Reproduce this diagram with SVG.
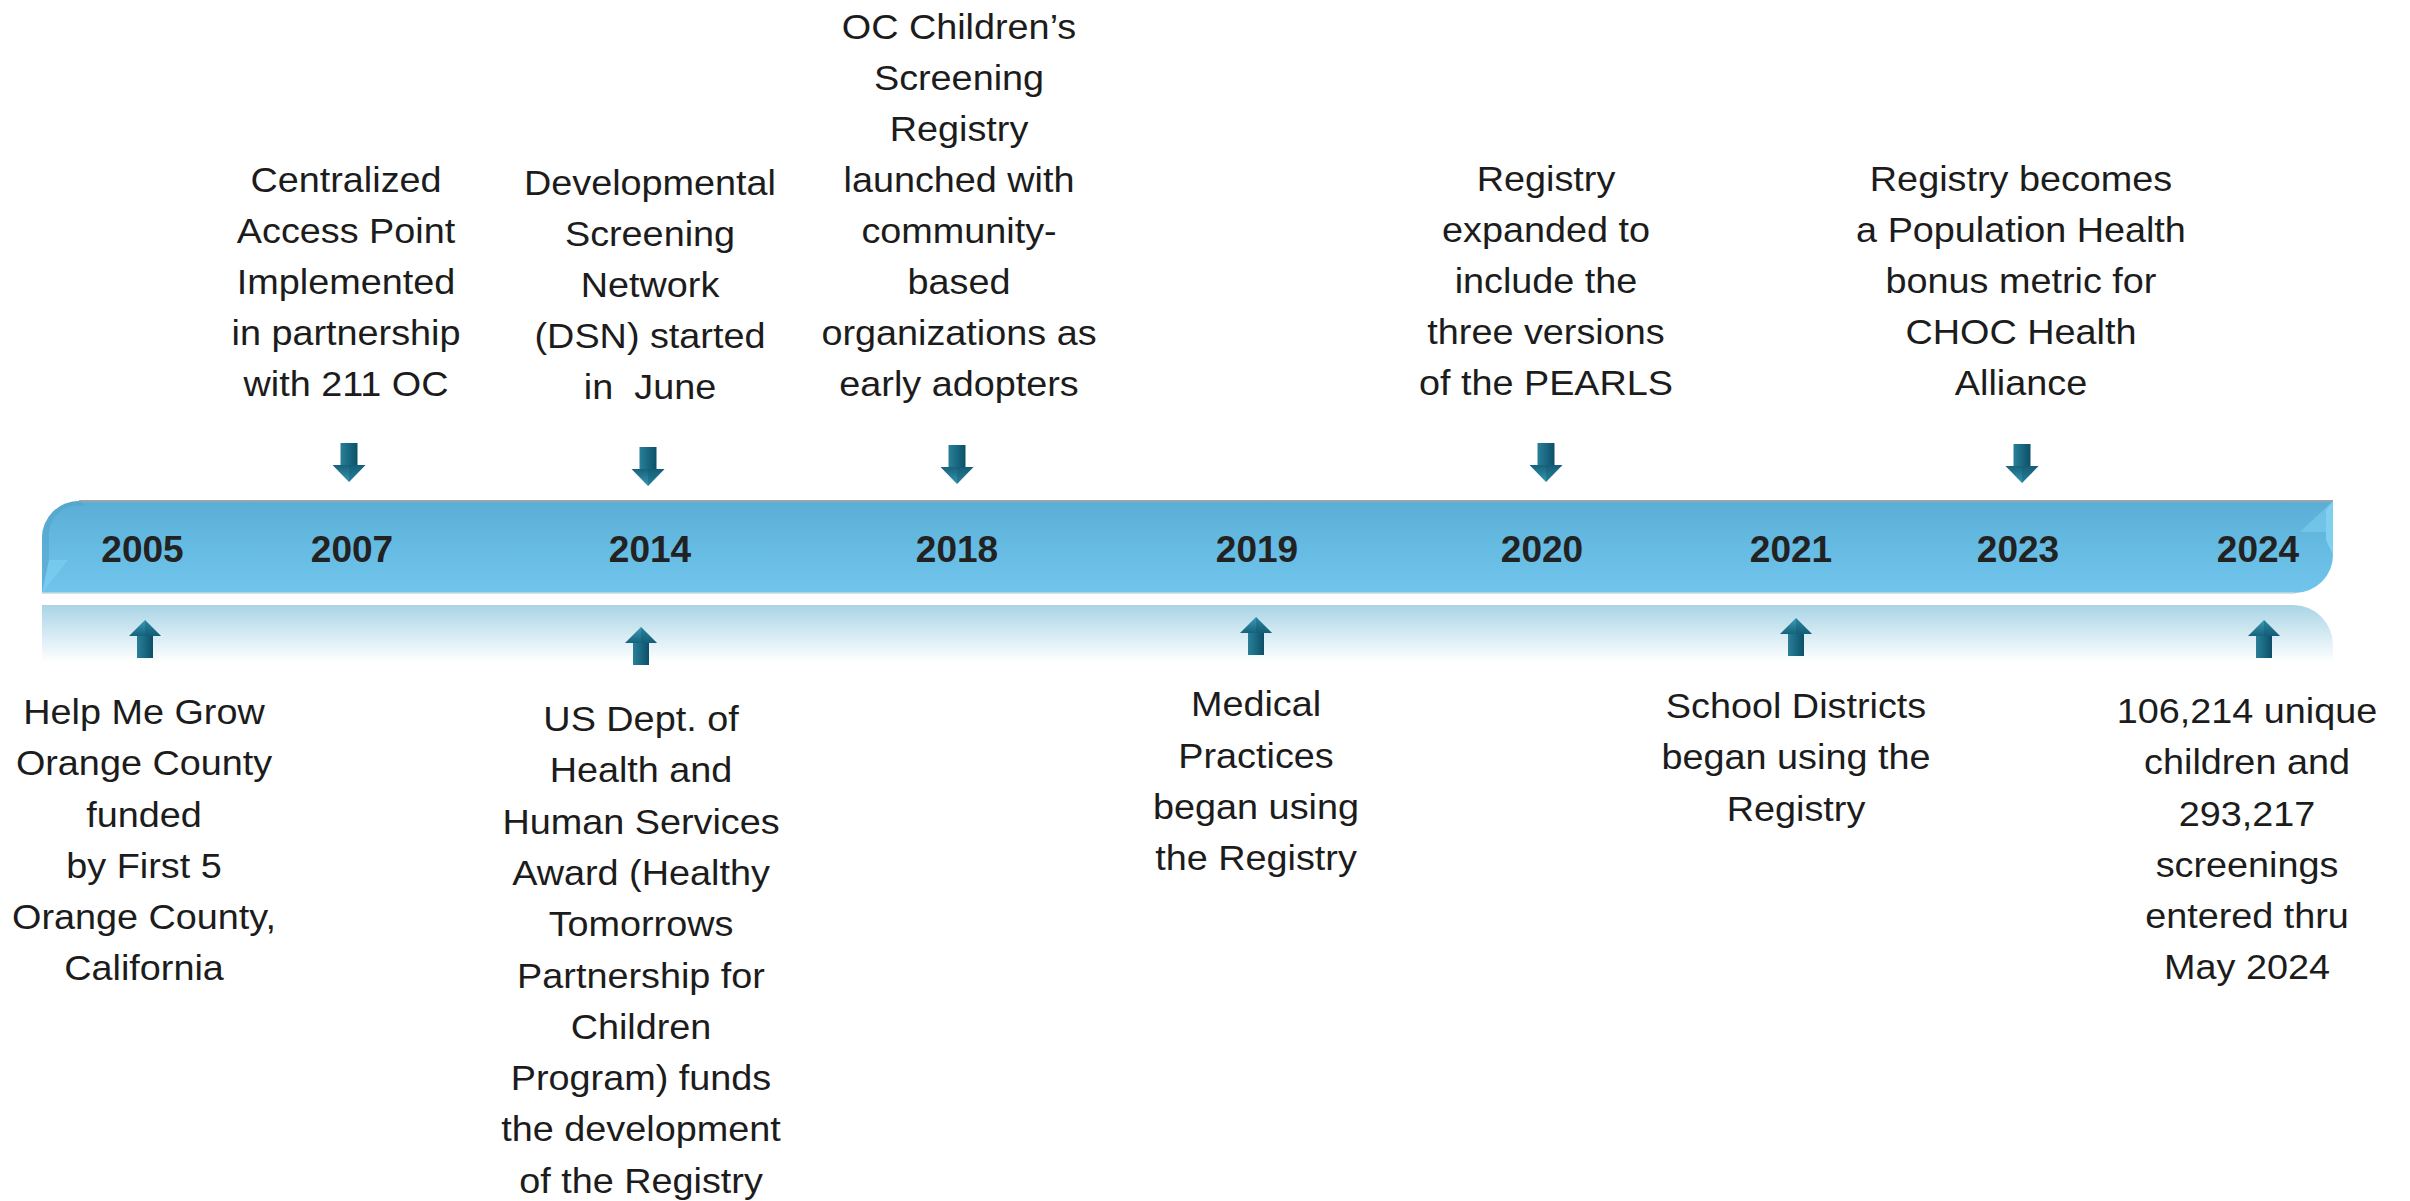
<svg xmlns="http://www.w3.org/2000/svg" xmlns:xlink="http://www.w3.org/1999/xlink" width="2410" height="1201" viewBox="0 0 2410 1201">
<style>
.t{font-family:"Liberation Sans",Arial,sans-serif;font-size:35px;fill:#1c1c1c;text-anchor:middle}
.y{font-family:"Liberation Sans",Arial,sans-serif;font-size:37px;font-weight:bold;fill:#222222;text-anchor:middle}
</style>
<defs>
<linearGradient id="barG" x1="0" y1="0" x2="0" y2="1">
<stop offset="0" stop-color="#5aaed5"/>
<stop offset="0.5" stop-color="#66bbe3"/>
<stop offset="1" stop-color="#71c5ec"/>
</linearGradient>
<linearGradient id="reflG" x1="0" y1="0" x2="0" y2="1">
<stop offset="0" stop-color="#a9d4e6"/>
<stop offset="0.5" stop-color="#d4eaf3"/>
<stop offset="1" stop-color="#ffffff"/>
</linearGradient>
<linearGradient id="shaftG" x1="0" y1="0" x2="1" y2="0">
<stop offset="0" stop-color="#2a7f98"/>
<stop offset="0.5" stop-color="#1a6882"/>
<stop offset="1" stop-color="#0d4f66"/>
</linearGradient>
<linearGradient id="headDownG" x1="0" y1="0" x2="0" y2="1">
<stop offset="0" stop-color="#17627b"/>
<stop offset="1" stop-color="#3497b1"/>
</linearGradient>
<linearGradient id="headUpG" x1="0" y1="0" x2="0" y2="1">
<stop offset="0" stop-color="#3a9db7"/>
<stop offset="1" stop-color="#17627b"/>
</linearGradient>
<g id="downArrow">
<rect x="-8.5" y="0" width="17" height="22" fill="url(#shaftG)"/>
<polygon points="-16.5,22 16.5,22 0,39" fill="url(#headDownG)"/>
<polygon points="0,22 16.5,22 0,39" fill="#0f5670" opacity="0.35"/>
</g>
<g id="upArrow">
<polygon points="0,0 -16,16 16,16" fill="url(#headUpG)"/>
<polygon points="0,0 16,16 0,16" fill="#0f5670" opacity="0.35"/>
<rect x="-8" y="16" width="16" height="22" fill="url(#shaftG)"/>
</g>
</defs>
<rect x="0" y="0" width="2410" height="1201" fill="#ffffff"/>

<g id="timeline">
<path d="M42,605 L2293,605 A40,40 0 0 1 2333,645 L2333,662 L42,662 Z" fill="url(#reflG)"/>
<path d="M42,593 L42,538 A37,37 0 0 1 79,501 L2333,501 L2333,555 A38,38 0 0 1 2295,593 Z" fill="url(#barG)"/>
<path d="M42,593 L42,538 A37,37 0 0 1 79,501 L86,506 A30,30 0 0 0 49,538 L49,560 Z" fill="#4f9fc6" opacity="0.5"/>
<polygon points="42,593 49,560 68,560" fill="#7fd0f2" opacity="0.6"/>
<polygon points="2333,501 2333,555 2326,540 2326,510" fill="#8fdaf7" opacity="0.7"/>
<polygon points="2333,501 2300,532 2326,532" fill="#84d2f3" opacity="0.5"/>
<path d="M79,501 L2333,501" stroke="#9aa6ad" stroke-width="2" fill="none"/>
<path d="M42,593 L2295,593" stroke="#c9d7de" stroke-width="1.5" fill="none"/>
<text class="y" x="142.5" y="562">2005</text>
<text class="y" x="352" y="562">2007</text>
<text class="y" x="650" y="562">2014</text>
<text class="y" x="957" y="562">2018</text>
<text class="y" x="1257" y="562">2019</text>
<text class="y" x="1542" y="562">2020</text>
<text class="y" x="1791" y="562">2021</text>
<text class="y" x="2018" y="562">2023</text>
<text class="y" x="2258" y="562">2024</text>
</g>

<g id="connectors">
<use xlink:href="#downArrow" href="#downArrow" transform="translate(349,443)"/>
<use xlink:href="#downArrow" href="#downArrow" transform="translate(648,447)"/>
<use xlink:href="#downArrow" href="#downArrow" transform="translate(957,445)"/>
<use xlink:href="#downArrow" href="#downArrow" transform="translate(1546,443)"/>
<use xlink:href="#downArrow" href="#downArrow" transform="translate(2022,444)"/>
<use xlink:href="#upArrow" href="#upArrow" transform="translate(145,620)"/>
<use xlink:href="#upArrow" href="#upArrow" transform="translate(641,627)"/>
<use xlink:href="#upArrow" href="#upArrow" transform="translate(1256,617)"/>
<use xlink:href="#upArrow" href="#upArrow" transform="translate(1796,618)"/>
<use xlink:href="#upArrow" href="#upArrow" transform="translate(2264,620)"/>
</g>

<g id="n2007" transform="translate(346,0) scale(1.08,1)">
<text class="t"><tspan x="0" y="192">Centralized</tspan><tspan x="0" y="243">Access Point</tspan><tspan x="0" y="294">Implemented</tspan><tspan x="0" y="345">in partnership</tspan><tspan x="0" y="396">with 211 OC</tspan></text>
</g>

<g id="n2014top" transform="translate(650,0) scale(1.08,1)">
<text class="t"><tspan x="0" y="195">Developmental</tspan><tspan x="0" y="246">Screening</tspan><tspan x="0" y="297">Network</tspan><tspan x="0" y="348">(DSN) started</tspan></text>
<text class="t" x="0" y="399" xml:space="preserve">in  June</text>
</g>

<g id="n2018" transform="translate(959,0) scale(1.08,1)">
<text class="t"><tspan x="0" y="39">OC Children’s</tspan><tspan x="0" y="90">Screening</tspan><tspan x="0" y="141">Registry</tspan><tspan x="0" y="192">launched with</tspan><tspan x="0" y="243">community-</tspan><tspan x="0" y="294">based</tspan><tspan x="0" y="345">organizations as</tspan><tspan x="0" y="396">early adopters</tspan></text>
</g>

<g id="n2020" transform="translate(1546,0) scale(1.08,1)">
<text class="t"><tspan x="0" y="191">Registry</tspan><tspan x="0" y="242">expanded to</tspan><tspan x="0" y="293">include the</tspan><tspan x="0" y="344">three versions</tspan><tspan x="0" y="395">of the PEARLS</tspan></text>
</g>

<g id="n2023" transform="translate(2021,0) scale(1.08,1)">
<text class="t"><tspan x="0" y="191">Registry becomes</tspan><tspan x="0" y="242">a Population Health</tspan><tspan x="0" y="293">bonus metric for</tspan><tspan x="0" y="344">CHOC Health</tspan><tspan x="0" y="395">Alliance</tspan></text>
</g>

<g id="n2005" transform="translate(144,0) scale(1.08,1)">
<text class="t"><tspan x="0" y="724">Help Me Grow</tspan><tspan x="0" y="775">Orange County</tspan><tspan x="0" y="827">funded</tspan><tspan x="0" y="878">by First 5</tspan><tspan x="0" y="929">Orange County,</tspan><tspan x="0" y="980">California</tspan></text>
</g>

<g id="n2014bottom" transform="translate(641,0) scale(1.08,1)">
<text class="t"><tspan x="0" y="731">US Dept. of</tspan><tspan x="0" y="782">Health and</tspan><tspan x="0" y="834">Human Services</tspan><tspan x="0" y="885">Award (Healthy</tspan><tspan x="0" y="936">Tomorrows</tspan><tspan x="0" y="988">Partnership for</tspan><tspan x="0" y="1039">Children</tspan><tspan x="0" y="1090">Program) funds</tspan><tspan x="0" y="1141">the development</tspan><tspan x="0" y="1193">of the Registry</tspan></text>
</g>

<g id="n2019" transform="translate(1256,0) scale(1.08,1)">
<text class="t"><tspan x="0" y="716">Medical</tspan><tspan x="0" y="768">Practices</tspan><tspan x="0" y="819">began using</tspan><tspan x="0" y="870">the Registry</tspan></text>
</g>

<g id="n2021" transform="translate(1796,0) scale(1.08,1)">
<text class="t"><tspan x="0" y="718">School Districts</tspan><tspan x="0" y="769">began using the</tspan><tspan x="0" y="821">Registry</tspan></text>
</g>

<g id="n2024" transform="translate(2247,0) scale(1.08,1)">
<text class="t"><tspan x="0" y="723">106,214 unique</tspan><tspan x="0" y="774">children and</tspan><tspan x="0" y="826">293,217</tspan><tspan x="0" y="877">screenings</tspan><tspan x="0" y="928">entered thru</tspan><tspan x="0" y="979">May 2024</tspan></text>
</g>
</svg>
